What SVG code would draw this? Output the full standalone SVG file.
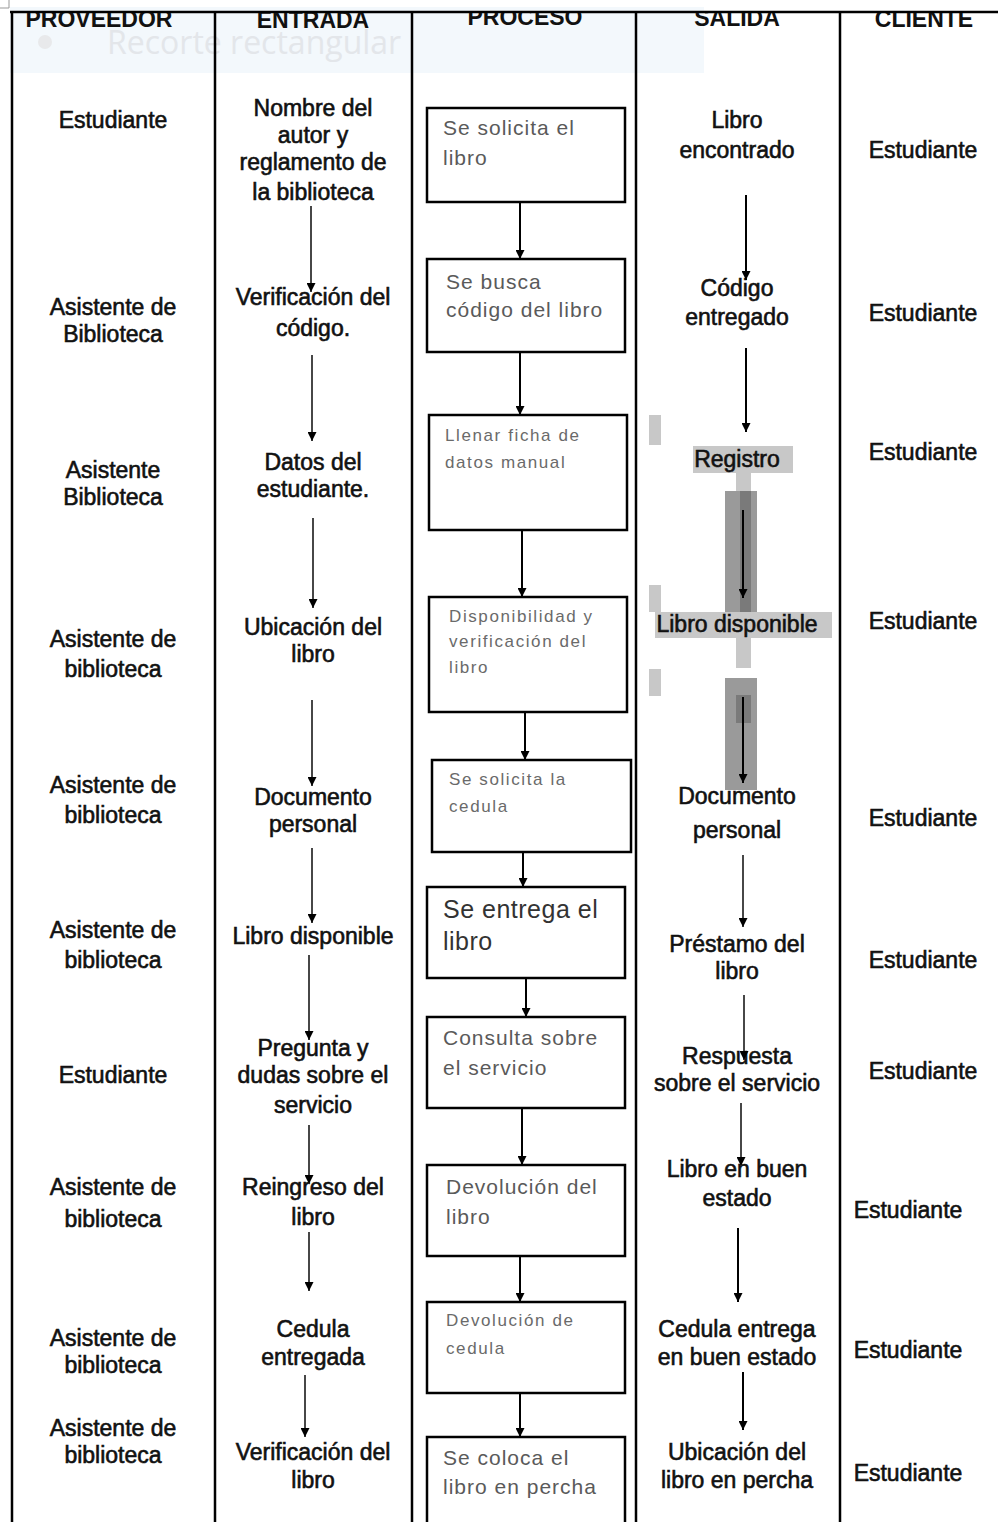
<svg xmlns="http://www.w3.org/2000/svg" width="998" height="1522" viewBox="0 0 998 1522">
<defs>
<style>
.t{font-family:"Liberation Sans",Arial,sans-serif;font-size:23px;fill:#111;stroke:#111;stroke-width:0.6;text-anchor:middle}
.h{font-family:"Liberation Sans",Arial,sans-serif;font-size:23px;font-weight:bold;fill:#111;text-anchor:middle}
.b{font-family:"Liberation Sans",Arial,sans-serif;font-size:21px;letter-spacing:1px;fill:#5a5a5a}
.bs{font-family:"Liberation Sans",Arial,sans-serif;font-size:17px;letter-spacing:1.6px;fill:#6a6a6a}
.bl{font-family:"Liberation Sans",Arial,sans-serif;font-size:25px;letter-spacing:0.5px;fill:#333}
.box{fill:#fff;stroke:#000;stroke-width:2.5}
.grid{stroke:#000;stroke-width:2.5;fill:none}
.ar{stroke:#333;stroke-width:1.8;fill:none;marker-end:url(#ah)}
.arp{stroke:#000;stroke-width:2;fill:none;marker-end:url(#ah)}
</style>
<marker id="ah" viewBox="0 0 10 10" refX="10" refY="5" markerWidth="9" markerHeight="9" markerUnits="userSpaceOnUse" orient="auto">
<path d="M0,0 L10,5 L0,10 z" fill="#000"/>
</marker>
<clipPath id="hc"><rect x="0" y="13" width="998" height="40"/></clipPath>
</defs>
<rect width="998" height="1522" fill="#fff"/>
<path d="M0,8 H9 V0" stroke="#999" stroke-width="1" fill="none"/>
<g id="overlay">
<rect x="10" y="7" width="694" height="66" fill="#f3f8fc"/>
<circle cx="45" cy="42" r="7" fill="#e8e9eb"/>
<text x="107" y="54" font-family="'Open Sans',sans-serif" font-size="32" fill="#e3e6ea">Recorte rectangular</text>
</g>
<g id="grid">
<line class="grid" x1="10" y1="12" x2="998" y2="12" stroke-width="2"/>
<line class="grid" x1="12" y1="12" x2="12" y2="1522" stroke-width="2"/>
<line class="grid" x1="215" y1="12" x2="215" y2="1522"/>
<line class="grid" x1="412" y1="12" x2="412" y2="1522"/>
<line class="grid" x1="636" y1="12" x2="636" y2="1522"/>
<line class="grid" x1="840" y1="12" x2="840" y2="1522"/>
</g>
<g id="headers" clip-path="url(#hc)">
<text class="h" x="99" y="27">PROVEEDOR</text>
<text class="h" x="313" y="28">ENTRADA</text>
<text class="h" x="525" y="25">PROCESO</text>
<text class="h" x="737" y="26">SALIDA</text>
<text class="h" x="924" y="27">CLIENTE</text>
</g>
<g id="highlights">
<rect x="649" y="415" width="12" height="30" fill="#c8c8c8"/>
<rect x="693" y="446" width="100" height="27" fill="#c8c8c8"/>
<rect x="736" y="473" width="15" height="19" fill="#c8c8c8"/>
<rect x="725" y="491" width="32" height="122" fill="#9a9a9a"/>
<rect x="740" y="491" width="11" height="122" fill="#7a7a7a"/>
<rect x="649" y="585" width="12" height="27" fill="#c8c8c8"/>
<rect x="655" y="612" width="177" height="26" fill="#c8c8c8"/>
<rect x="736" y="638" width="15" height="30" fill="#c8c8c8"/>
<rect x="649" y="669" width="12" height="27" fill="#c8c8c8"/>
<rect x="725" y="678" width="32" height="112" fill="#9a9a9a"/>
<rect x="736" y="695" width="15" height="28" fill="#7a7a7a"/>
</g>
<g id="proveedor">
<g id="p1"><text class="t" x="113" y="128">Estudiante</text></g>
<g id="p2"><text class="t" x="113" y="315">Asistente de</text><text class="t" x="113" y="342">Biblioteca</text></g>
<g id="p3"><text class="t" x="113" y="478">Asistente</text><text class="t" x="113" y="505">Biblioteca</text></g>
<g id="p4"><text class="t" x="113" y="647">Asistente de</text><text class="t" x="113" y="677">biblioteca</text></g>
<g id="p5"><text class="t" x="113" y="793">Asistente de</text><text class="t" x="113" y="823">biblioteca</text></g>
<g id="p6"><text class="t" x="113" y="938">Asistente de</text><text class="t" x="113" y="968">biblioteca</text></g>
<g id="p7"><text class="t" x="113" y="1083">Estudiante</text></g>
<g id="p8"><text class="t" x="113" y="1195">Asistente de</text><text class="t" x="113" y="1227">biblioteca</text></g>
<g id="p9"><text class="t" x="113" y="1346">Asistente de</text><text class="t" x="113" y="1373">biblioteca</text></g>
<g id="p10"><text class="t" x="113" y="1436">Asistente de</text><text class="t" x="113" y="1463">biblioteca</text></g>
</g>
<g id="entrada">
<g id="e1"><text class="t" x="313" y="116">Nombre del</text><text class="t" x="313" y="143">autor y</text><text class="t" x="313" y="170">reglamento de</text><text class="t" x="313" y="200">la biblioteca</text></g>
<g id="e2"><text class="t" x="313" y="305">Verificación del</text><text class="t" x="313" y="336">código.</text></g>
<g id="e3"><text class="t" x="313" y="470">Datos del</text><text class="t" x="313" y="497">estudiante.</text></g>
<g id="e4"><text class="t" x="313" y="635">Ubicación del</text><text class="t" x="313" y="662">libro</text></g>
<g id="e5"><text class="t" x="313" y="805">Documento</text><text class="t" x="313" y="832">personal</text></g>
<g id="e6"><text class="t" x="313" y="944">Libro disponible</text></g>
<g id="e7"><text class="t" x="313" y="1056">Pregunta y</text><text class="t" x="313" y="1083">dudas sobre el</text><text class="t" x="313" y="1113">servicio</text></g>
<g id="e8"><text class="t" x="313" y="1195">Reingreso del</text><text class="t" x="313" y="1225">libro</text></g>
<g id="e9"><text class="t" x="313" y="1337">Cedula</text><text class="t" x="313" y="1365">entregada</text></g>
<g id="e10"><text class="t" x="313" y="1460">Verificación del</text><text class="t" x="313" y="1488">libro</text></g>
</g>
<g id="proceso">
<g id="b1"><rect class="box" x="427" y="108" width="198" height="94"/><text class="b" x="443" y="135">Se solicita el</text><text class="b" x="443" y="165">libro</text></g>
<g id="b2"><rect class="box" x="427" y="259" width="198" height="93"/><text class="b" x="446" y="289">Se busca</text><text class="b" x="446" y="317">código del libro</text></g>
<g id="b3"><rect class="box" x="429" y="415" width="198" height="115"/><text class="bs" x="445" y="441">Llenar ficha de</text><text class="bs" x="445" y="468">datos manual</text></g>
<g id="b4"><rect class="box" x="429" y="597" width="198" height="115"/><text class="bs" x="449" y="622">Disponibilidad y</text><text class="bs" x="449" y="647">verificación del</text><text class="bs" x="449" y="673">libro</text></g>
<g id="b5"><rect class="box" x="432" y="760" width="199" height="92"/><text class="bs" x="449" y="785">Se solicita la</text><text class="bs" x="449" y="812">cedula</text></g>
<g id="b6"><rect class="box" x="427" y="887" width="198" height="91"/><text class="bl" x="443" y="918">Se entrega el</text><text class="bl" x="443" y="950">libro</text></g>
<g id="b7"><rect class="box" x="427" y="1017" width="198" height="91"/><text class="b" x="443" y="1045">Consulta sobre</text><text class="b" x="443" y="1075">el servicio</text></g>
<g id="b8"><rect class="box" x="427" y="1165" width="198" height="91"/><text class="b" x="446" y="1194">Devolución del</text><text class="b" x="446" y="1224">libro</text></g>
<g id="b9"><rect class="box" x="427" y="1302" width="198" height="91"/><text class="bs" x="446" y="1326">Devolución de</text><text class="bs" x="446" y="1354">cedula</text></g>
<g id="b10"><rect class="box" x="427" y="1437" width="198" height="100"/><text class="b" x="443" y="1465">Se coloca el</text><text class="b" x="443" y="1494">libro en percha</text></g>
</g>
<g id="salida">
<g id="s1"><text class="t" x="737" y="128">Libro</text><text class="t" x="737" y="158">encontrado</text></g>
<g id="s2"><text class="t" x="737" y="296">Código</text><text class="t" x="737" y="325">entregado</text></g>
<g id="s3"><text class="t" x="737" y="467">Registro</text></g>
<g id="s4"><text class="t" x="737" y="632">Libro disponible</text></g>
<g id="s5"><text class="t" x="737" y="804" font-size="21">Documento</text><text class="t" x="737" y="838" font-size="21">personal</text></g>
<g id="s6"><text class="t" x="737" y="952">Préstamo del</text><text class="t" x="737" y="979">libro</text></g>
<g id="s7"><text class="t" x="737" y="1064">Respuesta</text><text class="t" x="737" y="1091">sobre el servicio</text></g>
<g id="s8"><text class="t" x="737" y="1177">Libro en buen</text><text class="t" x="737" y="1206">estado</text></g>
<g id="s9"><text class="t" x="737" y="1337">Cedula entrega</text><text class="t" x="737" y="1365">en buen estado</text></g>
<g id="s10"><text class="t" x="737" y="1460">Ubicación del</text><text class="t" x="737" y="1488">libro en percha</text></g>
</g>
<g id="cliente">
<g id="c1"><text class="t" x="923" y="158">Estudiante</text></g>
<g id="c2"><text class="t" x="923" y="321">Estudiante</text></g>
<g id="c3"><text class="t" x="923" y="460">Estudiante</text></g>
<g id="c4"><text class="t" x="923" y="629">Estudiante</text></g>
<g id="c5"><text class="t" x="923" y="826">Estudiante</text></g>
<g id="c6"><text class="t" x="923" y="968">Estudiante</text></g>
<g id="c7"><text class="t" x="923" y="1079">Estudiante</text></g>
<g id="c8"><text class="t" x="908" y="1218">Estudiante</text></g>
<g id="c9"><text class="t" x="908" y="1358">Estudiante</text></g>
<g id="c10"><text class="t" x="908" y="1481">Estudiante</text></g>
</g>
<g id="connectors">
<line class="ar" x1="311" y1="206" x2="311" y2="292"/>
<line class="ar" x1="312" y1="355" x2="312" y2="441"/>
<line class="ar" x1="313" y1="518" x2="313" y2="608"/>
<line class="ar" x1="312" y1="700" x2="312" y2="786"/>
<line class="ar" x1="312" y1="848" x2="312" y2="923"/>
<line class="ar" x1="309" y1="955" x2="309" y2="1040"/>
<line class="ar" x1="309" y1="1125" x2="309" y2="1184"/>
<line class="ar" x1="309" y1="1232" x2="309" y2="1291"/>
<line class="ar" x1="305" y1="1375" x2="305" y2="1437"/>
<line class="arp" x1="520" y1="202" x2="520" y2="259"/>
<line class="arp" x1="520" y1="352" x2="520" y2="415"/>
<line class="arp" x1="522" y1="530" x2="522" y2="597"/>
<line class="arp" x1="525" y1="712" x2="525" y2="760"/>
<line class="arp" x1="523" y1="852" x2="523" y2="887"/>
<line class="arp" x1="526" y1="978" x2="526" y2="1017"/>
<line class="arp" x1="522" y1="1108" x2="522" y2="1165"/>
<line class="arp" x1="520" y1="1256" x2="520" y2="1302"/>
<line class="arp" x1="520" y1="1393" x2="520" y2="1437"/>
<line class="arp" x1="746" y1="195" x2="746" y2="280"/>
<line class="arp" x1="746" y1="348" x2="746" y2="432"/>
<line class="arp" x1="743" y1="510" x2="743" y2="598"/>
<line class="arp" x1="743" y1="697" x2="743" y2="783"/>
<line class="ar" x1="743" y1="855" x2="743" y2="927"/>
<line class="ar" x1="744" y1="995" x2="744" y2="1060"/>
<line class="ar" x1="741" y1="1103" x2="741" y2="1166"/>
<line class="arp" x1="738" y1="1228" x2="738" y2="1302"/>
<line class="arp" x1="743" y1="1372" x2="743" y2="1430"/>
</g>
</svg>
